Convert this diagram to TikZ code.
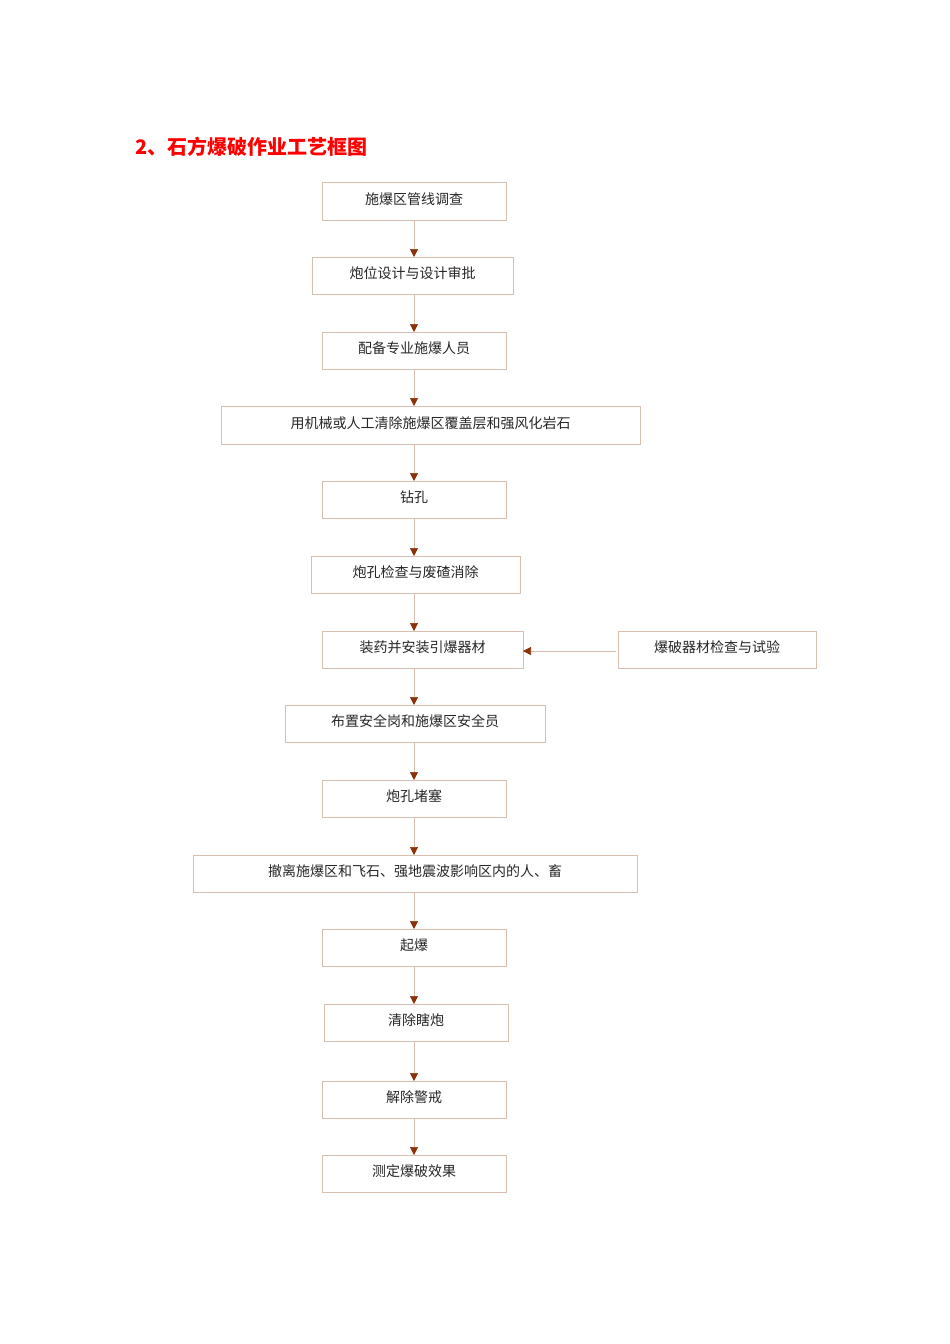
\documentclass[tikz,border=0pt]{standalone}
\usepackage{fontspec}
\newfontfamily\cjk{Noto Sans CJK SC}
\usetikzlibrary{arrows.meta}
\definecolor{boxline}{RGB}{215,190,175}
\definecolor{tipc}{RGB}{140,50,10}
\begin{document}
\begin{tikzpicture}[x=1pt,y=-1pt,
  bx/.style={draw=boxline,line width=0.7pt},
  lbl/.style={font=\cjk\fontsize{14}{16}\selectfont,inner sep=0pt,text=black!85},
  arr/.style={draw=boxline,line width=0.7pt,-{Triangle[length=8pt,width=8pt,fill=tipc,color=tipc]}}]
\useasboundingbox (0,0) rectangle (950,1344);
\node[anchor=west,inner sep=0pt,font=\cjk\bfseries\fontsize{20}{22}\selectfont,text=red] (title) at (135,147) {2、石方爆破作业工艺框图};
\coordinate (X) at (414,0);
\def\bbox#1#2#3#4#5#6{%
  \draw[bx] (#2,#3) rectangle (#4,#5);
  \coordinate (#1n) at ({(#2+#4)/2},#3);
  \coordinate (#1s) at ({(#2+#4)/2},#5);
  \node[lbl] (#1) at ({(#2+#4)/2},{(#3+#5)/2-2}) {#6};}
\bbox{a}{322}{182}{506}{220}{施爆区管线调查}
\bbox{b}{312}{257}{513}{294}{炮位设计与设计审批}
\bbox{c}{322}{332}{506}{369}{配备专业施爆人员}
\bbox{d}{221}{406}{640}{444}{用机械或人工清除施爆区覆盖层和强风化岩石}
\bbox{e}{322}{481}{506}{518}{钻孔}
\bbox{f}{311}{556}{520}{593}{炮孔检查与废碴消除}
\bbox{g}{322}{631}{523}{668}{装药并安装引爆器材}
\bbox{s}{618}{631}{816}{668}{爆破器材检查与试验}
\bbox{h}{285}{705}{545}{742}{布置安全岗和施爆区安全员}
\bbox{i}{322}{780}{506}{817}{炮孔堵塞}
\bbox{j}{193}{855}{637}{892}{撤离施爆区和飞石、强地震波影响区内的人、畜}
\bbox{k}{322}{929}{506}{966}{起爆}
\bbox{l}{324}{1004}{508}{1041}{清除瞎炮}
\bbox{m}{322}{1081}{506}{1118}{解除警戒}
\bbox{n}{322}{1155}{506}{1192}{测定爆破效果}
\foreach \p/\q in {a/b,b/c,c/d,d/e,e/f,f/g,g/h,h/i,i/j,j/k,k/l,l/m,m/n}
  \draw[arr] (\p s -| X) -- (\q n -| X);
\draw[arr] (616,651) -- (523,651);
\end{tikzpicture}
\end{document}
